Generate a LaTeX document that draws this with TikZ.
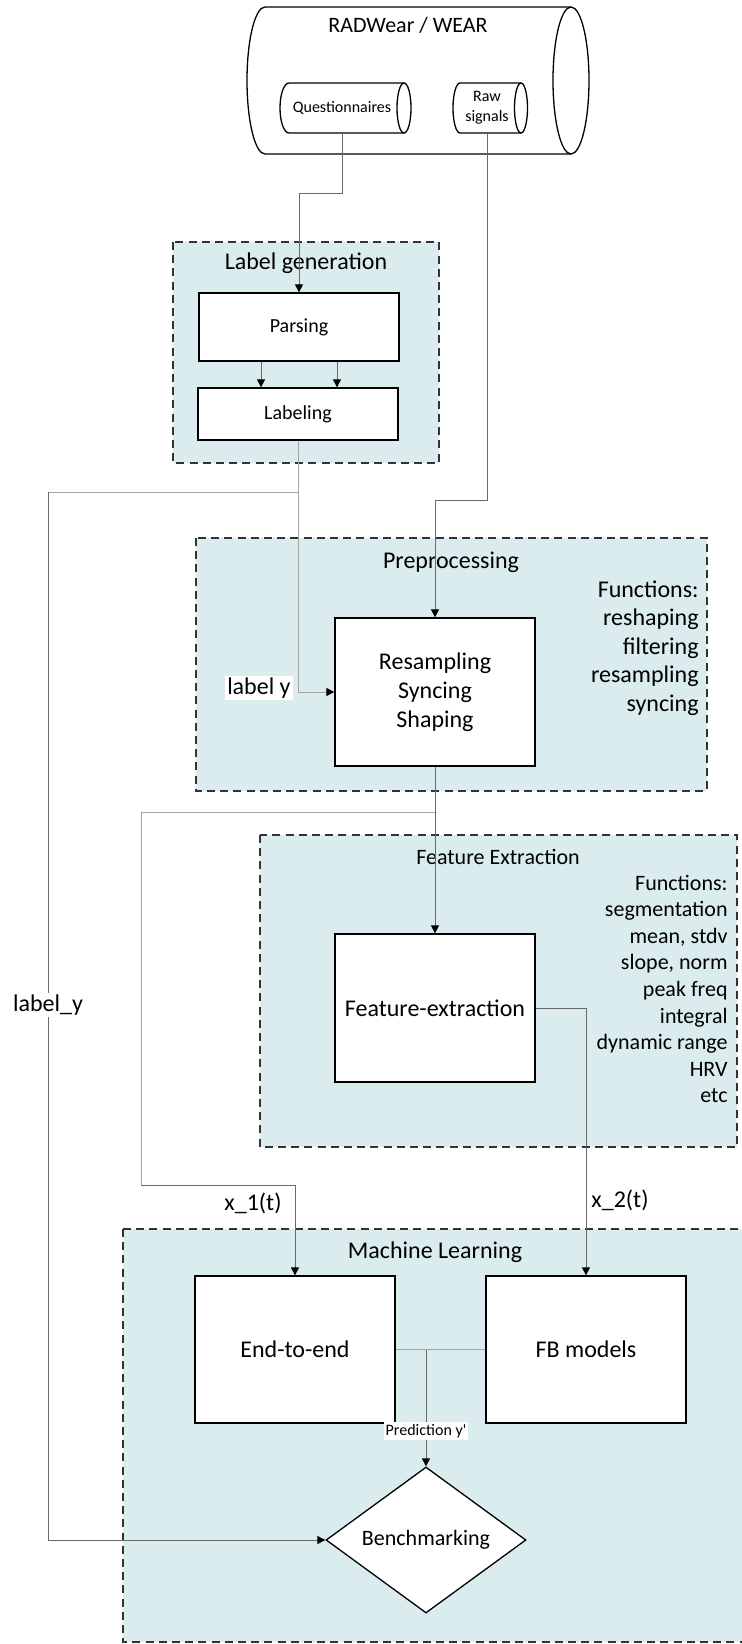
\documentclass[tikz,border=0pt]{standalone}
\usepackage{fontspec}
\setmainfont{Carlito}
\usetikzlibrary{arrows.meta,shapes.geometric,calc}
\definecolor{grpfill}{RGB}{219,236,238}
\definecolor{grpline}{RGB}{51,51,51}
\definecolor{conndark}{RGB}{105,105,105}
\definecolor{connlight}{RGB}{165,165,165}
\begin{document}
\begin{tikzpicture}[x=0.5pt,y=-0.5pt,
  grp/.style={draw=grpline, fill=grpfill, line width=0.75pt, dash pattern=on 4pt off 2.6pt},
  box/.style={draw=black, fill=white, line width=0.65pt, inner sep=0pt, align=center, font=\fontsize{12}{14.5}\selectfont},
  conn/.style={draw=conndark, line width=0.5pt},
  connl/.style={draw=connlight, line width=0.5pt},
  arr/.style={-{Triangle[length=4pt,width=4pt,color=black]}},
  ttl/.style={font=\fontsize{12}{14}\selectfont, inner sep=0pt},
  lbl/.style={fill=white, inner sep=1pt, font=\fontsize{12}{14}\selectfont},
  cyl/.style={draw=black, fill=white, line width=0.65pt},
  fnlist/.style={align=right, anchor=east, inner sep=0pt},
]
\useasboundingbox (0,0) rectangle (742,1644);

% group containers
\draw[grp] (173,242) rectangle (439,463);
\draw[grp] (196,538) rectangle (707,791);
\draw[grp] (260,835) rectangle (737,1147);
\draw[grp] (123,1229) rectangle (770,1642);

% titles
\node[ttl] (tlg) at (306,263) {Label generation};
\node[ttl] (tpre) at (451,562) {Preprocessing};
\node[ttl, font=\fontsize{11}{13}\selectfont] (tfe) at (498,857) {Feature Extraction};
\node[ttl] (tml) at (435,1252) {Machine Learning};

% function lists
\node[fnlist, font=\fontsize{12}{14.3}\selectfont] (fpre) at (699,648)
  {Functions:\\reshaping\\filtering\\resampling\\syncing};
\node[fnlist, font=\fontsize{11}{13.3}\selectfont] (ffe) at (728,989)
  {Functions:\\segmentation\\mean, stdv\\slope, norm\\peak freq\\integral\\dynamic range\\HRV\\etc};

% database cylinders
\draw[cyl] (571,7) -- (265,7) arc[start angle=270, end angle=90, x radius=18, y radius=73.5] -- (571,154);
\draw[cyl] (571,80.5) ellipse [x radius=18, y radius=73.5];
\draw[cyl] (404,83) -- (289,83) arc[start angle=270, end angle=90, x radius=9, y radius=25] -- (404,133);
\draw[cyl] (404,108) ellipse [x radius=7, y radius=25];
\draw[cyl] (521,83) -- (460,83) arc[start angle=270, end angle=90, x radius=7, y radius=25] -- (521,133);
\draw[cyl] (521,108) ellipse [x radius=6.5, y radius=25];

\node[font=\fontsize{11}{13}\selectfont, inner sep=0pt] (db) at (408,25) {RADWear / WEAR};
\node[font=\fontsize{8}{10}\selectfont, minimum width=57.5pt, minimum height=25pt, inner sep=0pt] (quest) at (342,108) {Questionnaires};
\node[font=\fontsize{8}{10}\selectfont, minimum width=30pt, minimum height=25pt, inner sep=0pt, align=center] (raw) at (487,108) {Raw\\signals};

% process boxes
\node[box, minimum width=100pt, minimum height=34pt, font=\fontsize{10}{12}\selectfont] (parsing) at (299,327) {Parsing};
\node[box, minimum width=100pt, minimum height=26pt, font=\fontsize{10}{12}\selectfont] (labeling) at (298,414) {Labeling};
\node[box, minimum width=100pt, minimum height=74pt] (resamp) at (435,692) {Resampling\\Syncing\\Shaping};
\node[box, minimum width=100pt, minimum height=74pt] (fe) at (435,1008) {Feature-extraction};
\node[box, minimum width=100pt, minimum height=73.5pt] (e2e) at (295,1349.5) {End-to-end};
\node[box, minimum width=100pt, minimum height=73.5pt] (fb) at (586,1349.5) {FB models};
\node[box, diamond, shape aspect=1.4, minimum width=100pt, minimum height=73pt, font=\fontsize{11}{13}\selectfont] (bench) at (426,1540) {Benchmarking};

% connectors
\draw[conn, arr] (quest.south) -- ++(0,60) -| (parsing.north);
\draw[conn, arr] (raw.south) -- ++(0,367) -| (resamp.north);
\draw[conn, arr] ([xshift=-19pt]parsing.south) -- ([xshift=-18.5pt]labeling.north);
\draw[conn, arr] ([xshift=19pt]parsing.south) -- ([xshift=19.5pt]labeling.north);
\draw[connl, arr] (labeling.south) |- (resamp.west);
\coordinate (j1) at (298,492);
\coordinate (lyc) at (48,492);
\draw[connl] (j1) -- (lyc);
\draw[conn, arr] (lyc) |- (bench.west);
\draw[conn, arr] (resamp.south) -- (fe.north);
\coordinate (j2) at (435,812);
\coordinate (x1a) at (141,812);
\coordinate (x1b) at (141,1185);
\draw[connl] (j2) -- (x1a) -- (x1b);
\draw[conn, arr] (x1b) -| (e2e.north);
\draw[conn, arr] (fe.east) -| (fb.north);
\draw[connl] (e2e.east) -- (fb.west);
\coordinate (j3) at (426,1349.5);
\draw[conn, arr] (j3) -- (bench.north);

% connector labels
\node[lbl, anchor=east] (lyl) at (293,688) {label y};
\node[lbl] (lyl2) at (48,1005) {label\_y};
\node[lbl] (x1l) at (253,1203) {x\_1(t)};
\node[lbl] (x2l) at (620,1200) {x\_2(t)};
\node[lbl, font=\fontsize{8}{10}\selectfont] (pred) at (426,1431) {Prediction y\textquotesingle};
\end{tikzpicture}
\end{document}
